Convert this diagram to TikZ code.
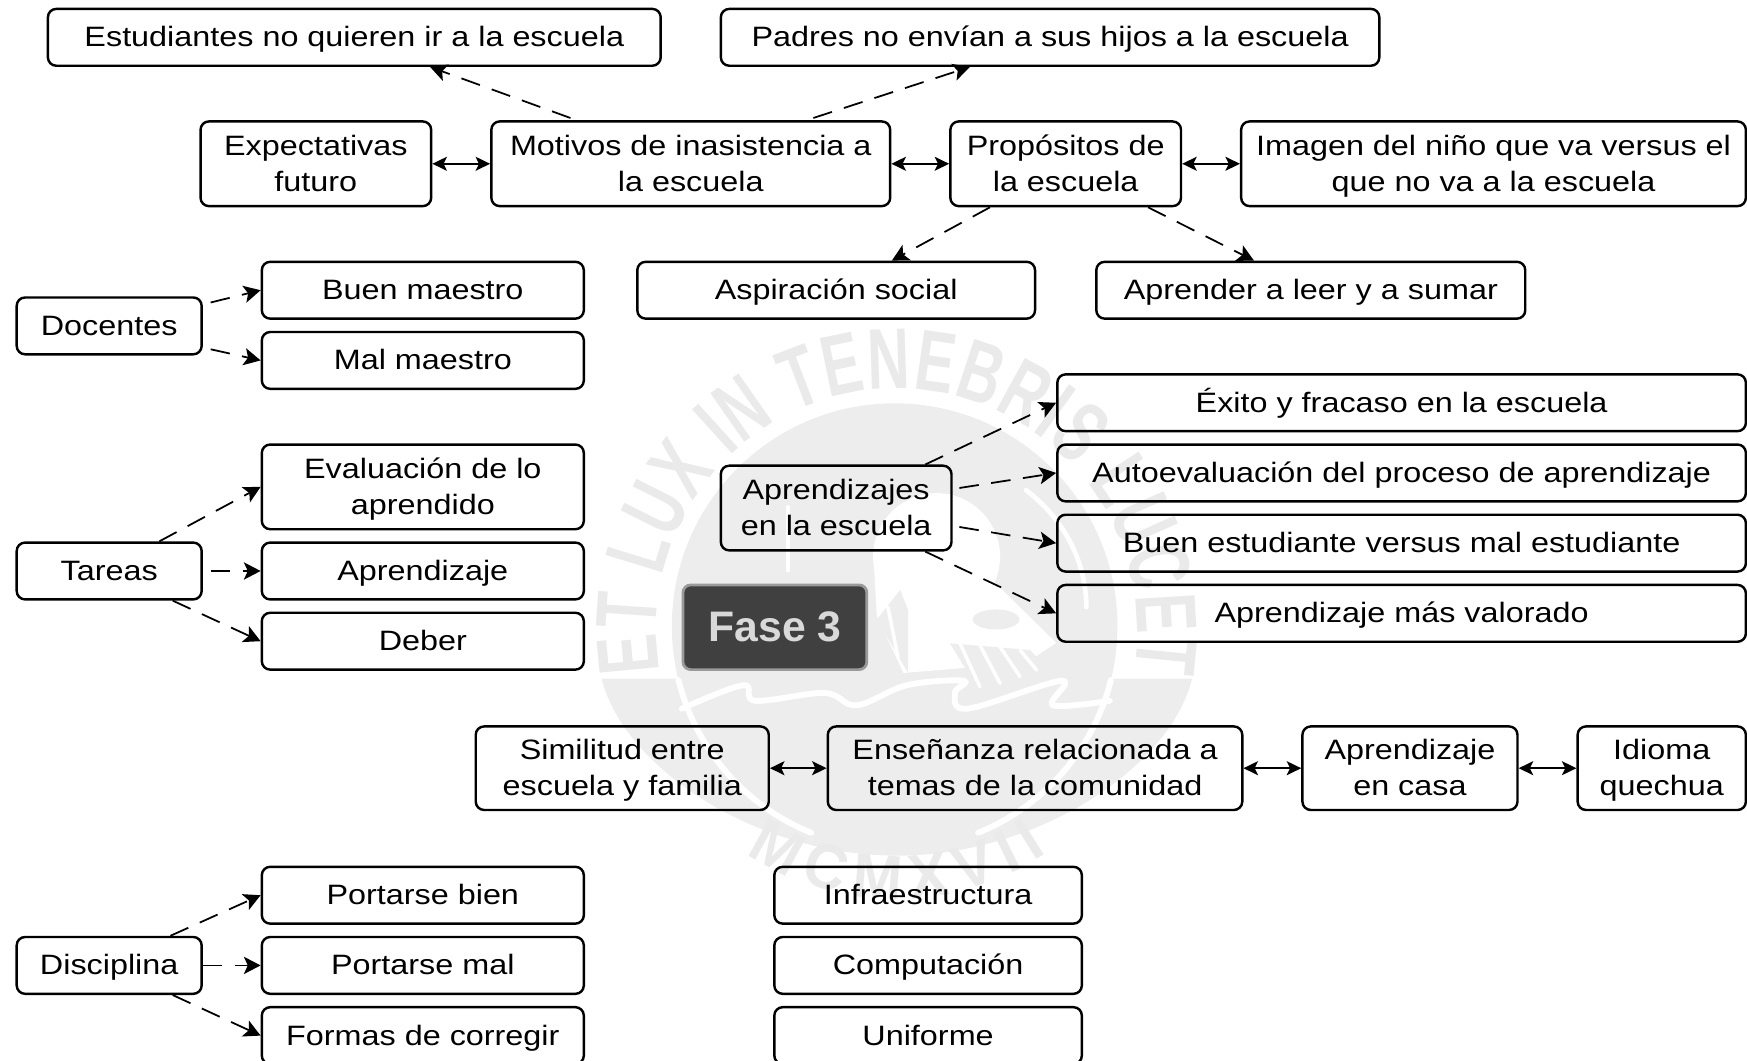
\documentclass[tikz,border=0pt]{standalone}
\usepackage{fontspec}
\setmainfont{Liberation Sans}[FakeStretch=1.155]
\newfontfamily\fasefont{Liberation Sans}[BoldFont={Liberation Sans Bold}]
\newfontfamily\wmfont{Liberation Sans Bold}[FakeStretch=0.68]
\newfontfamily\wmfontb{Liberation Sans Bold}[FakeStretch=0.95]
\usetikzlibrary{arrows.meta,calc,decorations.text}
\definecolor{wmtext}{HTML}{EAEAEA}
\definecolor{wmdisc}{HTML}{EDEDED}
\definecolor{fasebg}{HTML}{404040}
\definecolor{faseln}{HTML}{9A9A9A}
\definecolor{fasetx}{HTML}{D9D9D9}
\tikzset{
  boxnode/.style={draw=black,line width=0.62pt,rounded corners=0.75mm,inner sep=0pt,align=center,
    font=\fontsize{7.15}{9.25}\selectfont,text=black},
  dasharrow/.style={-{Stealth[length=1.5mm,width=1.55mm,inset=0.35mm]},line width=0.45pt,dash pattern=on 5pt off 3.2pt},
  botharrow/.style={{Stealth[length=1.3mm,width=1.25mm,inset=0.3mm]}-{Stealth[length=1.3mm,width=1.25mm,inset=0.3mm]},line width=0.5pt},
  fasenode/.style={draw=faseln,fill=fasebg,line width=0.7pt,rounded corners=0.7mm,inner sep=0pt,
    font=\fasefont\bfseries\fontsize{10.9}{12}\selectfont,text=fasetx},
  wmshape/.style={fill=wmdisc,draw=none},
  wmcut/.style={draw=white,line width=1.5pt,line cap=round,line join=round}
}
\newcommand{\topstrut}{\vrule height 7.6pt depth 0pt width 0pt\relax}
\newcommand{\botstrut}{\vrule height 0pt depth 2.8pt width 0pt\relax}
\newcommand{\bx}[6]{\node[boxnode,minimum width={(#4-#2)*0.01cm},minimum height={(#5-#3)*0.01cm}] (#1) at ({(#2+#4)/2},{(#3+#5)/2}) {\topstrut#6\botstrut};}
\begin{document}
\begin{tikzpicture}[x=0.01cm,y=-0.01cm]
\useasboundingbox (0,0) rectangle (1568,952);
% watermark
\path[wmshape] (540,609) .. controls (560,690) and (680,768) .. (805,768) .. controls (930,768) and (1050,690) .. (1070,609) -- cycle;
\fill[wmdisc] (803,562) circle[radius=200];
\begin{scope}[shift={(803,562)},y=0.01cm]
\draw[wmcut] (-166:200) arc[start angle=-166,end angle=-112,radius=200];
\draw[wmcut] (-14:200) arc[start angle=-14,end angle=-68,radius=200];
\end{scope}
% central white field
\fill[white] (840.6,499.6) circle[radius=57];
\fill[white] (784,500) -- (787,553) -- (811,604) -- (921,595) -- (948,577) -- (897,527) -- cycle;
\fill[wmdisc] (894,556) ellipse[x radius=21,y radius=9];
\path[wmshape] (787,556) -- (808,529.5) -- (815,547.5) -- (815,604) -- cycle;
\path[wmshape] (852.6,577.4) -- (924.4,583.4) -- (939.4,598.4) -- (876.5,616.3) -- cycle;
\draw[wmcut,line width=0.9pt] (861.6,577.4) -- (879.5,616.3) (879.5,579) -- (897.5,613.3) (897.5,580.4) -- (915.5,607.3) (915.5,583.4) -- (930.4,601.4) (797,545) -- (806,590);
\draw[wmcut,line width=1pt] (707,455) -- (707,512);
\draw[wmcut,line width=1.2pt] (921,440) .. controls (960,470) and (975,510) .. (975,545);
\draw[wmcut] plot[smooth,tension=0.6] coordinates {(612,636) (667,615) (678,629) (740,622) (769,633) (814,615) (865,611) (857,622) (869,636) (953,611) (945,633) (996,629)};
\begin{scope}[shift={(805,565)},y=0.01cm]
\path[decorate,decoration={text along path,text align=fit to path,
  text={|\wmfont\color{wmtext}\fontsize{22}{22}\selectfont|ET LUX IN TENEBRIS LUCET}}]
  (190:216) arc[start angle=190,end angle=-10,radius=216];
\path[decorate,decoration={text along path,text align=fit to path,
  text={|\wmfontb\color{wmtext}\fontsize{16}{16}\selectfont|MCMXVII}}]
  (-124:242) arc[start angle=-124,end angle=-56,radius=242];
\end{scope}
% boxes
\bx{est}{43}{8}{593}{59}{Estudiantes no quieren ir a la escuela}
\bx{pad}{647}{8}{1238}{59}{Padres no envían a sus hijos a la escuela}
\bx{exp}{180}{109}{387}{185}{Expectativas\\futuro}
\bx{mot}{441}{109}{799}{185}{Motivos de inasistencia a\\la escuela}
\bx{pro}{853}{109}{1060}{185}{Propósitos de\\la escuela}
\bx{ima}{1114}{109}{1567}{185}{Imagen del niño que va versus el\\que no va a la escuela}
\bx{asp}{572}{235}{929}{286}{Aspiración social}
\bx{ale}{984}{235}{1369}{286}{Aprender a leer y a sumar}
\bx{doc}{15}{267}{181}{318}{Docentes}
\bx{bue}{235}{235}{524}{286}{Buen maestro}
\bx{mal}{235}{298}{524}{349}{Mal maestro}
\bx{tar}{15}{487}{181}{538}{Tareas}
\bx{eva}{235}{399}{524}{475}{Evaluación de lo\\aprendido}
\bx{apz}{235}{487}{524}{538}{Aprendizaje}
\bx{deb}{235}{550}{524}{601}{Deber}
\bx{esc}{647}{418}{854}{494}{Aprendizajes\\en la escuela}
\bx{exi}{949}{336}{1567}{387}{Éxito y fracaso en la escuela}
\bx{aut}{949}{399}{1567}{450}{Autoevaluación del proceso de aprendizaje}
\bx{ben}{949}{462}{1567}{513}{Buen estudiante versus mal estudiante}
\bx{apv}{949}{525}{1567}{576}{Aprendizaje más valorado}
\node[fasenode,minimum width=1.65cm,minimum height=0.76cm] (fase) at (695.5,563) {Fase 3};
\bx{sim}{427}{652}{690}{727}{Similitud entre\\escuela y familia}
\bx{ens}{743}{652}{1115}{727}{Enseñanza relacionada a\\temas de la comunidad}
\bx{cas}{1169}{652}{1362}{727}{Aprendizaje\\en casa}
\bx{idi}{1416}{652}{1567}{727}{Idioma\\quechua}
\bx{pbi}{235}{778}{524}{829}{Portarse bien}
\bx{pma}{235}{841}{524}{892}{Portarse mal}
\bx{fco}{235}{904}{524}{955}{Formas de corregir}
\bx{inf}{695}{778}{971}{829}{Infraestructura}
\bx{com}{695}{841}{971}{892}{Computación}
\bx{uni}{695}{904}{971}{955}{Uniforme}
\bx{dis}{15}{841}{181}{892}{Disciplina}
% connectors
\draw[dasharrow] ($(mot.north)+(-108,-2)$) -- ($(est.south)+(68,0)$);
\draw[dasharrow] ($(mot.north)+(110,-2)$) -- ($(pad.south)+(-72,0)$);
\draw[botharrow] (exp.east) -- (mot.west);
\draw[botharrow] (mot.east) -- (pro.west);
\draw[botharrow] (pro.east) -- (ima.west);
\draw[dasharrow] ($(pro.south)+(-68,0)$) -- ($(asp.north)+(50,0)$);
\draw[dasharrow] ($(pro.south)+(74,0)$) -- ($(ale.north)+(-51,0)$);
\draw[dasharrow] ($(doc.east)+(7,-21)$) -- (bue.west);
\draw[dasharrow] ($(doc.east)+(7,21)$) -- (mal.west);
\draw[dasharrow] ($(tar.north)+(45,0)$) -- (eva.west);
\draw[dasharrow] ($(tar.east)+(7,0)$) -- (apz.west);
\draw[dasharrow] ($(tar.south)+(57,0)$) -- (deb.west);
\draw[dasharrow] ($(esc.north)+(80,0)$) -- (exi.west);
\draw[dasharrow] ($(esc.east)+(6,-18)$) -- (aut.west);
\draw[dasharrow] ($(esc.east)+(6,17)$) -- (ben.west);
\draw[dasharrow] ($(esc.south)+(80,0)$) -- (apv.west);
\draw[botharrow] (sim.east) -- (ens.west);
\draw[botharrow] (ens.east) -- (cas.west);
\draw[botharrow] (cas.east) -- (idi.west);
\draw[dasharrow] ($(dis.north)+(55,0)$) -- (pbi.west);
\draw[dasharrow] (dis.east) -- (pma.west);
\draw[dasharrow] ($(dis.south)+(57,0)$) -- (fco.west);
\end{tikzpicture}
\end{document}
